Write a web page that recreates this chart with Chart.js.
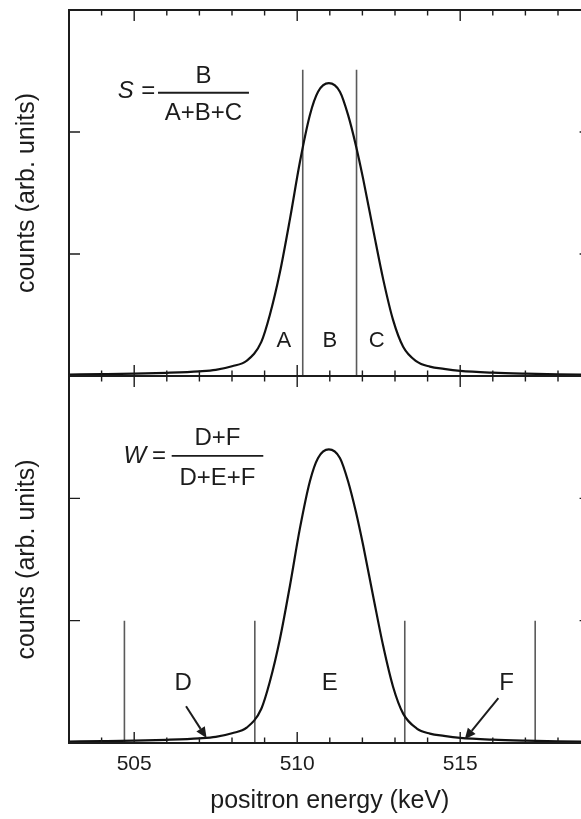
<!DOCTYPE html>
<html>
<head>
<meta charset="utf-8">
<script src="https://cdn.jsdelivr.net/npm/chart.js@4.4.1/dist/chart.umd.min.js"></script>
<style>
  html, body { margin: 0; padding: 0; background: #fff; overflow: hidden; width: 581px; height: 819px; }
  canvas { position: absolute; left: 0; top: 0; }
</style>
</head>
<body>
<canvas id="top" width="600" height="819"></canvas>
<canvas id="bottom" width="600" height="819"></canvas>
<script>
// annihilation peak (keV vs counts, 1 unit = one y tick)
const energy = [503.0, 504.0, 505.0, 506.0, 507.0, 507.5, 508.0, 508.45, 508.9, 509.16, 509.47,
  509.78, 510.08, 510.39, 510.64, 510.97, 511.31, 511.56, 511.80, 512.02, 512.33, 512.64,
  512.94, 513.25, 513.66, 514.07, 514.5, 515.0, 516.0, 517.0, 518.0, 519.0];
const counts = [0.012, 0.015, 0.019, 0.026, 0.038, 0.05, 0.08, 0.125, 0.28, 0.50, 0.85,
  1.29, 1.75, 2.14, 2.33, 2.40, 2.33, 2.14, 1.89, 1.62, 1.20, 0.79,
  0.46, 0.24, 0.12, 0.077, 0.058, 0.042, 0.027, 0.019, 0.014, 0.011];

const xMin = 503, xMax = 519, yMax = 3;
const xTickLabels = [505, 510, 515];
const xMinorTicks = [503, 504, 505, 506, 507, 508, 509, 510, 511, 512, 513, 514, 515, 516, 517, 518, 519];
const yTicks = [1, 2];

// window edges: S parameter (top), W parameter (bottom)
const sEdges = [510.17, 511.82];
const sEdgeTop = 2.51;
const wEdges = [504.7, 508.7, 513.3, 517.3];
const wEdgeTop = 1.0;

const FONT = '"Liberation Sans", Arial, Helvetica, sans-serif';
const INK = '#1c1c1c';

const panelPlugin = {
  id: 'panel',
  afterDatasetsDraw(chart, args, opts) {
    const { ctx, chartArea: a, scales: { x, y } } = chart;
    const px = v => x.getPixelForValue(v);
    const py = v => y.getPixelForValue(v);
    ctx.save();
    ctx.strokeStyle = INK;
    ctx.fillStyle = INK;

    // frame + inward ticks
    ctx.lineWidth = 2;
    ctx.strokeRect(a.left, a.top, a.right - a.left, a.bottom - a.top);
    ctx.lineWidth = 1.4;
    ctx.beginPath();
    xMinorTicks.forEach(v => {
      const len = xTickLabels.includes(v) ? 11 : 5.5;
      ctx.moveTo(px(v), a.top); ctx.lineTo(px(v), a.top + len);
      ctx.moveTo(px(v), a.bottom); ctx.lineTo(px(v), a.bottom - len);
    });
    yTicks.forEach(v => {
      ctx.moveTo(a.left, py(v)); ctx.lineTo(a.left + 11, py(v));
      ctx.moveTo(a.right, py(v)); ctx.lineTo(a.right - 11, py(v));
    });
    ctx.stroke();

    // region letters
    ctx.textAlign = 'center';
    ctx.textBaseline = 'middle';
    ctx.font = opts.labelSize + 'px ' + FONT;
    opts.labels.forEach(l => ctx.fillText(l.text, px(l.x), py(l.y)));

    // arrows
    ctx.lineWidth = 2;
    (opts.arrows || []).forEach(ar => {
      const x0 = px(ar[0]), y0 = py(ar[1]), x1 = px(ar[2]), y1 = py(ar[3]);
      const ang = Math.atan2(y1 - y0, x1 - x0);
      const hl = 11, hw = 5;
      const bx = x1 - hl * Math.cos(ang), by = y1 - hl * Math.sin(ang);
      ctx.beginPath(); ctx.moveTo(x0, y0); ctx.lineTo(bx, by); ctx.stroke();
      ctx.beginPath();
      ctx.moveTo(x1, y1);
      ctx.lineTo(bx + hw * Math.sin(ang), by - hw * Math.cos(ang));
      ctx.lineTo(bx - hw * Math.sin(ang), by + hw * Math.cos(ang));
      ctx.closePath(); ctx.fill();
    });

    // formula
    const f = opts.formula;
    ctx.font = 'italic ' + f.size + 'px ' + FONT;
    ctx.fillText(f.symbol, px(f.symX), py(f.symY));
    ctx.font = f.size + 'px ' + FONT;
    ctx.fillText('=', px(f.eqX), py(f.symY));
    const mid = (px(f.barFrom) + px(f.barTo)) / 2;
    ctx.fillText(f.num, mid, py(f.numY));
    ctx.fillText(f.den, mid, py(f.denY));
    ctx.lineWidth = 1.9;
    ctx.beginPath();
    ctx.moveTo(px(f.barFrom), py(f.barY)); ctx.lineTo(px(f.barTo), py(f.barY));
    ctx.stroke();
    ctx.restore();
  }
};

function curveSet() {
  return {
    data: energy.map((e, i) => ({ x: e, y: counts[i] })),
    borderColor: '#111', borderWidth: 2.2, pointRadius: 0,
    cubicInterpolationMode: 'monotone', fill: false
  };
}

function edgeSets(edges, top) {
  return edges.map(e => ({
    data: [{ x: e, y: 0 }, { x: e, y: top }],
    borderColor: '#5a5a5a', borderWidth: 1.6, pointRadius: 0, fill: false
  }));
}

function yScale() {
  return {
    min: 0, max: yMax,
    grid: { display: false, drawTicks: false },
    border: { display: false },
    ticks: { display: false },
    title: { display: true, text: 'counts (arb. units)', color: INK,
      font: { family: FONT, size: 25 }, padding: { top: 12, bottom: 0 } },
    afterFit: s => { s.width = 69; }
  };
}

new Chart(document.getElementById('top'), {
  type: 'line',
  data: { datasets: [curveSet(), ...edgeSets(sEdges, sEdgeTop)] },
  options: {
    responsive: false, animation: false, events: [],
    layout: { padding: { top: 10, right: 9.4, bottom: 443, left: 0 } },
    plugins: {
      legend: { display: false }, tooltip: { enabled: false },
      panel: {
        labelSize: 22,
        labels: [{ text: 'A', x: 509.59, y: 0.29 }, { text: 'B', x: 511.0, y: 0.29 }, { text: 'C', x: 512.44, y: 0.29 }],
        formula: { symbol: 'S', num: 'B', den: 'A+B+C', size: 24,
          symX: 504.74, symY: 2.33, eqX: 505.43, barFrom: 505.73, barTo: 508.52,
          barY: 2.322, numY: 2.457, denY: 2.152 }
      }
    },
    scales: {
      x: { type: 'linear', min: xMin, max: xMax, display: false },
      y: yScale()
    }
  },
  plugins: [panelPlugin]
});

new Chart(document.getElementById('bottom'), {
  type: 'line',
  data: { datasets: [curveSet(), ...edgeSets(wEdges, wEdgeTop)] },
  options: {
    responsive: false, animation: false, events: [],
    layout: { padding: { top: 376, right: 9.4, bottom: 0, left: 0 } },
    plugins: {
      legend: { display: false }, tooltip: { enabled: false },
      panel: {
        labelSize: 24,
        labels: [{ text: 'D', x: 506.5, y: 0.49 }, { text: 'E', x: 511.0, y: 0.49 }, { text: 'F', x: 516.42, y: 0.49 }],
        arrows: [[506.59, 0.30, 507.22, 0.04], [516.17, 0.366, 515.14, 0.03]],
        formula: { symbol: 'W', num: 'D+F', den: 'D+E+F', size: 24,
          symX: 505.02, symY: 2.34, eqX: 505.76, barFrom: 506.15, barTo: 508.96,
          barY: 2.347, numY: 2.49, denY: 2.16 }
      }
    },
    scales: {
      x: {
        type: 'linear', min: xMin, max: xMax,
        grid: { display: false, drawTicks: false },
        border: { display: false },
        afterBuildTicks: s => { s.ticks = xTickLabels.map(v => ({ value: v })); },
        ticks: { color: INK, font: { family: FONT, size: 21 }, padding: 9, maxRotation: 0 },
        title: { display: true, text: 'positron energy (keV)', color: INK,
          font: { family: FONT, size: 25 }, padding: { top: 0, bottom: 3 } },
        afterFit: s => { s.height = 76; }
      },
      y: yScale()
    }
  },
  plugins: [panelPlugin]
});
</script>
</body>
</html>
